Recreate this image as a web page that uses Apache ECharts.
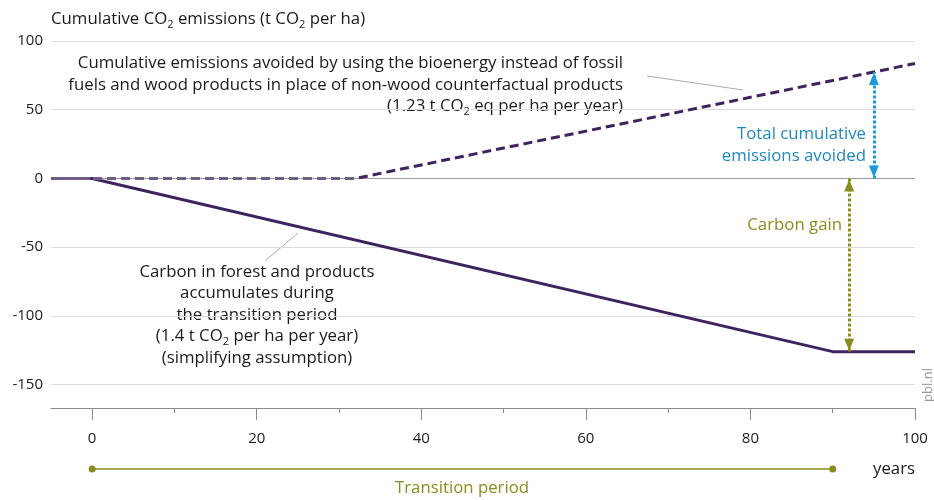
<!DOCTYPE html>
<html>
<head>
<meta charset="utf-8">
<script src="https://cdn.jsdelivr.net/npm/echarts@6/dist/echarts.min.js"></script>
<style>
	html, body { margin: 0; padding: 0; background: #fff; }
	#chart { width: 934px; height: 500px; }
</style>
</head>
<body>
<div id="chart"></div>
<script>
	// data
	var stockYears = [-5, 0, 90, 100];
	var stockValues = [0, 0, -126, -126];
	var avoidedYears = [-5, 32, 100];
	var avoidedValues = [0, 0, 83.6];
	var xTicks = [0, 20, 40, 60, 80, 100];
	var xMinorTicks = [10, 30, 50, 70, 90];
	var yTicks = [-150, -100, -50, 0, 50, 100];
	var transitionSpan = [0, 90];
	var avoidedArrow = [95, 0, 77.5];
	var gainArrow = [92, 0, -126];

	var purple = "#3f2260";
	var purpleLight = "#6e5e86";
	var olive = "#8b8c1f";
	var blue = "#1d9ad9";
	var textColor = "#1a1a1a";
	var font = "Open Sans";

	function zip(xs, ys){
		var out = [];
		for(var i = 0; i < xs.length; i++){
			out.push([xs[i], ys[i]]);
		}
		return out;
	}

	// line colour lighter on its flat part, where it lies on the zero line
	function flatGradient(xs){
		var span = xs[xs.length - 1] - xs[0];
		var cut = (xs[1] - xs[0]) / span;
		return new echarts.graphic.LinearGradient(0, 0, 1, 0, [
			{offset: 0, color: purpleLight},
			{offset: cut, color: purpleLight},
			{offset: Math.min(cut + 0.001, 1), color: purple},
			{offset: 1, color: purple}
		]);
	}

	function richStyle(color, size){
		return {
			fontFamily: font,
			fontSize: size,
			fill: color,
			lineHeight: 21.5,
			rich: {sub: {fontSize: 11, lineHeight: 12, padding: [11, 0, 0, 0], fontFamily: font, fill: color}}
		};
	}

	function text(x, y, str, align, color, size){
		var style = richStyle(color || textColor, size || 16.8);
		style.text = str;
		style.align = align;
		style.textAlign = align;
		style.verticalAlign = "middle";
		style.textVerticalAlign = "middle";
		return {type: "text", x: x, y: y, silent: true, style: style};
	}

	function leader(x1, y1, x2, y2){
		return {type: "line", silent: true, shape: {x1: x1, y1: y1, x2: x2, y2: y2}, style: {stroke: "#aaa", lineWidth: 1}};
	}

	function arrow(arr, color){
		return [
			{coord: [arr[0], arr[1]], lineStyle: {color: color}, itemStyle: {color: color}},
			{coord: [arr[0], arr[2]], lineStyle: {color: color}, itemStyle: {color: color}}
		];
	}

	var gridColors = yTicks.map(function(v){ return v === 0 ? "#999" : "#dcdcdc"; });

	var myChart = echarts.init(document.getElementById("chart"));
	myChart.setOption({
		animation: false,
		textStyle: {fontFamily: font},
		grid: [
			{left: 51, right: 19, top: 41, bottom: 92},
			{left: 51, right: 19, top: 460, height: 18}
		],
		xAxis: [
			{
				type: "value", gridIndex: 0, min: -5, max: 100, position: "bottom",
				axisLine: {show: true, onZero: false, lineStyle: {color: "#8a8a8a", width: 1}},
				axisTick: {show: true, customValues: xTicks, length: 12, lineStyle: {color: "#8a8a8a"}},
				axisLabel: {customValues: xTicks, margin: 23, color: textColor, fontSize: 15, fontFamily: font},
				splitLine: {show: false}
			},
			{
				type: "value", gridIndex: 0, min: -5, max: 100, position: "bottom",
				axisLine: {show: false, onZero: false},
				axisTick: {show: true, customValues: xMinorTicks, length: 5, lineStyle: {color: "#8a8a8a"}},
				axisLabel: {show: false},
				splitLine: {show: false}
			},
			{
				type: "value", gridIndex: 1, min: -5, max: 100, show: false
			}
		],
		yAxis: [
			{
				type: "value", gridIndex: 0, min: -167, max: 100,
				axisLine: {show: false},
				axisTick: {show: false, customValues: yTicks},
				axisLabel: {customValues: yTicks, margin: 8, color: textColor, fontSize: 15, fontFamily: font},
				splitLine: {show: true, lineStyle: {color: gridColors, width: 1}}
			},
			{
				type: "value", gridIndex: 1, min: -1, max: 1, show: false
			}
		],
		series: [
			{
				name: "Carbon in forest and products",
				type: "line", xAxisIndex: 0, yAxisIndex: 0,
				data: zip(stockYears, stockValues),
				showSymbol: false, silent: true,
				lineStyle: {width: 3, color: flatGradient(stockYears)},
				z: 3
			},
			{
				name: "Cumulative emissions avoided",
				type: "line", xAxisIndex: 0, yAxisIndex: 0,
				data: zip(avoidedYears, avoidedValues),
				showSymbol: false, silent: true,
				lineStyle: {width: 3, type: [9, 5], color: flatGradient(avoidedYears)},
				z: 4,
				markLine: {
					silent: true,
					symbol: ["triangle", "triangle"],
					symbolSize: [10, 12],
					symbolOffset: [[0, 7], [0, 7]],
					label: {show: false},
					lineStyle: {type: [3, 2], width: 3},
					data: [arrow(avoidedArrow, blue), arrow(gainArrow, olive)]
				}
			},
			{
				name: "Transition period",
				type: "line", xAxisIndex: 2, yAxisIndex: 1,
				data: [[transitionSpan[0], 0], [transitionSpan[1], 0]],
				symbol: "circle", symbolSize: 7, showSymbol: true, silent: true,
				itemStyle: {color: olive},
				lineStyle: {width: 1.5, color: olive}
			}
		],
		graphic: [
			text(51, 19, "Cumulative CO{sub|2} emissions (t CO{sub|2} per ha)", "left"),
			text(623, 85, "Cumulative emissions avoided by using the bioenergy instead of fossil\nfuels and wood products in place of non-wood counterfactual products\n(1.23 t CO{sub|2} eq per ha per year)", "right"),
			leader(647, 76, 743, 90),
			text(257, 315, "Carbon in forest and products\naccumulates during\nthe transition period\n(1.4 t CO{sub|2} per ha per year)\n(simplifying assumption)", "center"),
			leader(298, 233, 265, 261),
			text(866, 145, "Total cumulative\nemissions avoided", "right", "#1f88be"),
			text(842, 225, "Carbon gain", "right", olive),
			text(915, 469, "years", "right"),
			text(462, 488, "Transition period", "center", olive),
			{
				type: "text", x: 928, y: 385, rotation: Math.PI / 2, silent: true,
				style: {text: "pbl.nl", fontFamily: font, fontSize: 13, fill: "#999", align: "center", textAlign: "center", verticalAlign: "middle", textVerticalAlign: "middle"}
			}
		]
	});
</script>
</body>
</html>
